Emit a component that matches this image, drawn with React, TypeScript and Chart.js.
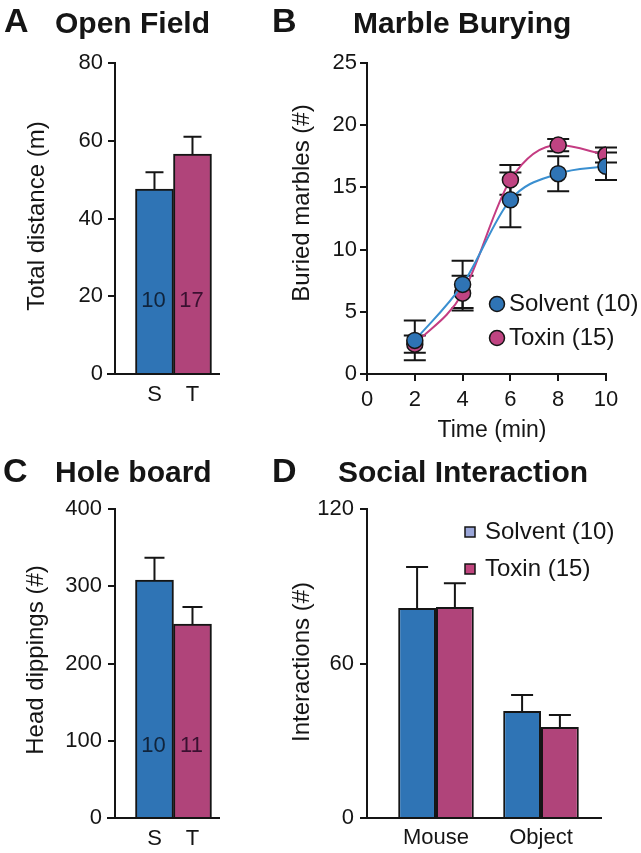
import React, { useEffect, useRef } from 'react';
import { Chart, registerables } from 'chart.js';

Chart.register(...registerables);

const FONT = '"Liberation Sans", Arial, Helvetica, sans-serif';
const INK = '#151515';
const BLUE = '#2f74b5';
const MAGENTA = '#b0447a';
const BLUE_LINE = '#3a8fd0';
const MAGENTA_LINE = '#c43c82';
const SOLVENT_KEY = '#9aa6d8';

// Panel A – Open Field
const openFieldGroups = ['S', 'T'];
const openFieldMeans = [47.6, 56.6];
const openFieldSem = [4.3, 4.4];
const openFieldN = ['10', '17'];

// Panel B – Marble Burying
const marbleTimes = [2, 4, 6, 8, 10];
const marbleSolvent = [2.7, 7.2, 14.0, 16.1, 16.7];
const marbleSolventSem = [1.6, 1.9, 2.2, 1.4, 1.1];
const marbleToxin = [2.4, 6.5, 15.6, 18.4, 17.6];
const marbleToxinSem = [0.7, 1.4, 1.2, 0.5, 0.6];
const seriesLabels = ['Solvent (10)', 'Toxin (15)'];

// Panel C – Hole board
const holeGroups = ['S', 'T'];
const holeMeans = [308, 251];
const holeSem = [29, 22];
const holeN = ['10', '11'];

// Panel D – Social Interaction
const socialCategories = ['Mouse', 'Object'];
const socialSolvent = [81.6, 41.6];
const socialSolventSem = [15.9, 6.2];
const socialToxin = [81.9, 35.3];
const socialToxinSem = [9.3, 4.7];

const f = (size: number, bold = false) => `${bold ? 'bold ' : ''}${size}px ${FONT}`;

type TextItem = { text: string; x: number; y: number; size: number; bold?: boolean; rotate?: boolean; align?: CanvasTextAlign; baseline?: CanvasTextBaseline };

const textPlugin = (items: TextItem[]) => ({
  id: 'texts',
  afterDraw(chart: any) {
    const ctx = chart.ctx;
    items.forEach((it) => {
      ctx.save();
      ctx.fillStyle = INK;
      ctx.font = f(it.size, it.bold);
      ctx.textAlign = it.align || 'left';
      ctx.textBaseline = it.baseline || 'alphabetic';
      ctx.translate(it.x, it.y);
      if (it.rotate) ctx.rotate(-Math.PI / 2);
      ctx.fillText(it.text, 0, 0);
      ctx.restore();
    });
  },
});

const baselinePlugin = (ext: number) => ({
  id: 'baseline',
  afterDraw(chart: any) {
    const { ctx, chartArea } = chart;
    const y0 = chart.scales.y.getPixelForValue(0);
    ctx.save();
    ctx.strokeStyle = INK;
    ctx.lineWidth = 2;
    ctx.beginPath();
    ctx.moveTo(chartArea.left - ext, y0);
    ctx.lineTo(chartArea.right, y0);
    ctx.stroke();
    ctx.restore();
  },
});

const barErrorPlugin = (sems: number[][], capHalf: number) => ({
  id: 'barErr',
  afterDatasetsDraw(chart: any) {
    const ctx = chart.ctx;
    const ys = chart.scales.y;
    chart.data.datasets.forEach((ds: any, di: number) => {
      const meta = chart.getDatasetMeta(di);
      meta.data.forEach((bar: any, j: number) => {
        const v = ds.data[j].y;
        const top = ys.getPixelForValue(v + sems[di][j]);
        ctx.save();
        ctx.strokeStyle = INK;
        ctx.lineWidth = 2;
        ctx.beginPath();
        ctx.moveTo(bar.x, bar.y);
        ctx.lineTo(bar.x, top);
        ctx.moveTo(bar.x - capHalf, top);
        ctx.lineTo(bar.x + capHalf, top);
        ctx.stroke();
        ctx.restore();
      });
    });
  },
});

const barCountPlugin = (labels: string[], atValue: number, colors: string[]) => ({
  id: 'counts',
  afterDatasetsDraw(chart: any) {
    const ctx = chart.ctx;
    const y = chart.scales.y.getPixelForValue(atValue) + 5;
    chart.getDatasetMeta(0).data.forEach((bar: any, j: number) => {
      ctx.save();
      ctx.fillStyle = colors[j];
      ctx.font = f(22);
      ctx.textAlign = 'center';
      ctx.textBaseline = 'middle';
      ctx.fillText(labels[j], bar.x - 1, y);
      ctx.restore();
    });
  },
});

const lineErrorPlugin = (sems: number[][], capHalf: number) => ({
  id: 'lineErr',
  beforeDatasetsDraw(chart: any) {
    const ctx = chart.ctx;
    const ys = chart.scales.y;
    chart.data.datasets.forEach((ds: any, di: number) => {
      const meta = chart.getDatasetMeta(di);
      meta.data.forEach((pt: any, j: number) => {
        const v = ds.data[j].y;
        const hi = ys.getPixelForValue(v + sems[di][j]);
        const lo = ys.getPixelForValue(v - sems[di][j]);
        ctx.save();
        ctx.strokeStyle = INK;
        ctx.lineWidth = 2;
        ctx.beginPath();
        ctx.moveTo(pt.x, hi);
        ctx.lineTo(pt.x, lo);
        ctx.moveTo(pt.x - capHalf, hi);
        ctx.lineTo(pt.x + capHalf, hi);
        ctx.moveTo(pt.x - capHalf, lo);
        ctx.lineTo(pt.x + capHalf, lo);
        ctx.stroke();
        ctx.restore();
      });
    });
  },
});

const legendPlugin = (x: number, ys: number[], shape: 'circle' | 'square', fills: string[]) => ({
  id: 'legendCustom',
  afterDraw(chart: any) {
    const ctx = chart.ctx;
    chart.data.datasets.forEach((ds: any, i: number) => {
      ctx.save();
      ctx.fillStyle = fills[i];
      ctx.strokeStyle = INK;
      ctx.lineWidth = 1.5;
      ctx.beginPath();
      if (shape === 'circle') {
        ctx.arc(x, ys[i], 7.5, 0, Math.PI * 2);
        ctx.fill();
        ctx.stroke();
      } else {
        ctx.rect(x - 5, ys[i] - 5, 10, 10);
        ctx.fill();
        ctx.stroke();
      }
      ctx.fillStyle = INK;
      ctx.font = f(24);
      ctx.textAlign = 'left';
      ctx.textBaseline = 'middle';
      ctx.fillText(ds.label, x + (shape === 'circle' ? 12 : 15), ys[i]);
      ctx.restore();
    });
  },
});

const yAxis = (max: number, step: number, width: number, pad: number) => ({
  min: 0,
  max,
  ticks: { stepSize: step, font: { family: FONT, size: 22 }, color: INK, padding: pad },
  grid: { drawOnChartArea: false, drawTicks: true, tickLength: 7, color: INK, lineWidth: 2 },
  border: { display: true, color: INK, width: 2 },
  afterFit: (s: any) => { s.width = width; },
});

const catXAxis = (labels: string[], min: number, max: number, height: number, pad: number) => ({
  type: 'linear' as const,
  min,
  max,
  offset: false,
  afterBuildTicks: (s: any) => { s.ticks = labels.map((_, i) => ({ value: i + 1 })); },
  ticks: {
    callback: (v: any) => labels[Math.round(v) - 1] ?? '',
    font: { family: FONT, size: 22 },
    color: INK,
    padding: pad,
    maxRotation: 0,
    autoSkip: false,
  },
  grid: { display: false, drawTicks: false, offset: false },
  border: { display: false },
  afterFit: (s: any) => { s.height = height; },
});

const common = { responsive: false, animation: false as const, devicePixelRatio: 1 };
const noPlugins = { legend: { display: false }, tooltip: { enabled: false } };

export default function App() {
  const aRef = useRef<HTMLCanvasElement>(null);
  const bRef = useRef<HTMLCanvasElement>(null);
  const cRef = useRef<HTMLCanvasElement>(null);
  const dRef = useRef<HTMLCanvasElement>(null);

  useEffect(() => {
    const charts: Chart[] = [];

    charts.push(new Chart(aRef.current!, {
      type: 'bar',
      data: {
        datasets: [{
          data: openFieldMeans.map((v, i) => ({ x: i + 1, y: v })),
          backgroundColor: [BLUE, MAGENTA],
          borderColor: INK,
          borderWidth: 2,
          barPercentage: 1,
          categoryPercentage: 1,
        }],
      },
      options: {
        ...common,
        layout: { padding: { left: 0, right: 10, top: 63, bottom: 0 } },
        plugins: noPlugins,
        scales: {
          x: catXAxis(openFieldGroups, -0.039, 2.724, 76, 8),
          y: yAxis(80, 20, 115, 5),
        },
      } as any,
      plugins: [
        baselinePlugin(8),
        barErrorPlugin([openFieldSem], 9),
        barCountPlugin(openFieldN, 20, ['#10243c', '#3a1030']),
        textPlugin([
          { text: 'A', x: 4, y: 32, size: 34, bold: true },
          { text: 'Open Field', x: 55, y: 33, size: 30, bold: true },
          { text: 'Total distance (m)', x: 37, y: 216, size: 24, rotate: true, align: 'center', baseline: 'middle' },
        ]),
      ],
    }));

    charts.push(new Chart(bRef.current!, {
      type: 'line',
      data: {
        datasets: [
          {
            label: seriesLabels[0],
            data: marbleTimes.map((t, i) => ({ x: t, y: marbleSolvent[i] })),
            borderColor: BLUE_LINE,
            backgroundColor: BLUE,
            pointBackgroundColor: BLUE,
            pointBorderColor: INK,
            pointBorderWidth: 1.5,
            pointRadius: 8,
            borderWidth: 2,
            cubicInterpolationMode: 'monotone',
          },
          {
            label: seriesLabels[1],
            data: marbleTimes.map((t, i) => ({ x: t, y: marbleToxin[i] })),
            borderColor: MAGENTA_LINE,
            backgroundColor: MAGENTA,
            pointBackgroundColor: '#c04482',
            pointBorderColor: INK,
            pointBorderWidth: 1.5,
            pointRadius: 8,
            borderWidth: 2,
            cubicInterpolationMode: 'monotone',
          },
        ],
      },
      options: {
        ...common,
        layout: { padding: { left: 0, right: 35, top: 63, bottom: 0 } },
        plugins: noPlugins,
        scales: {
          x: {
            type: 'linear',
            min: 0,
            max: 10,
            ticks: { stepSize: 2, font: { family: FONT, size: 22 }, color: INK, padding: 6, maxRotation: 0 },
            grid: { drawOnChartArea: false, drawTicks: true, tickLength: 7, color: INK, lineWidth: 2 },
            border: { display: true, color: INK, width: 2 },
            afterFit: (s: any) => { s.height = 76; },
          },
          y: yAxis(25, 5, 137, 3),
        },
      } as any,
      plugins: [
        lineErrorPlugin([marbleSolventSem, marbleToxinSem], 11),
        legendPlugin(267, [304, 338], 'circle', [BLUE, '#c04482']),
        textPlugin([
          { text: 'B', x: 42, y: 32, size: 34, bold: true },
          { text: 'Marble Burying', x: 123, y: 33, size: 30, bold: true },
          { text: 'Buried marbles (#)', x: 72, y: 203, size: 24, rotate: true, align: 'center', baseline: 'middle' },
          { text: 'Time (min)', x: 262, y: 431, size: 23, align: 'center', baseline: 'middle' },
        ]),
      ],
    }));

    charts.push(new Chart(cRef.current!, {
      type: 'bar',
      data: {
        datasets: [{
          data: holeMeans.map((v, i) => ({ x: i + 1, y: v })),
          backgroundColor: [BLUE, MAGENTA],
          borderColor: INK,
          borderWidth: 2,
          barPercentage: 1,
          categoryPercentage: 1,
        }],
      },
      options: {
        ...common,
        layout: { padding: { left: 0, right: 10, top: 59, bottom: 0 } },
        plugins: noPlugins,
        scales: {
          x: catXAxis(holeGroups, -0.039, 2.724, 35, 8),
          y: yAxis(400, 100, 115, 6),
        },
      } as any,
      plugins: [
        baselinePlugin(8),
        barErrorPlugin([holeSem], 10),
        barCountPlugin(holeN, 100, ['#10243c', '#3a1030']),
        textPlugin([
          { text: 'C', x: 3, y: 32, size: 34, bold: true },
          { text: 'Hole board', x: 55, y: 32, size: 30, bold: true },
          { text: 'Head dippings (#)', x: 36, y: 210, size: 24, rotate: true, align: 'center', baseline: 'middle' },
        ]),
      ],
    }));

    charts.push(new Chart(dRef.current!, {
      type: 'bar',
      data: {
        datasets: [
          {
            label: seriesLabels[0],
            data: socialSolvent.map((v, i) => ({ x: i + 1, y: v })),
            backgroundColor: BLUE,
            borderColor: INK,
            borderWidth: 2,
            barPercentage: 1,
            categoryPercentage: 0.72,
          },
          {
            label: seriesLabels[1],
            data: socialToxin.map((v, i) => ({ x: i + 1, y: v })),
            backgroundColor: MAGENTA,
            borderColor: INK,
            borderWidth: 2,
            barPercentage: 1,
            categoryPercentage: 0.72,
          },
        ],
      },
      options: {
        ...common,
        layout: { padding: { left: 0, right: 39, top: 59, bottom: 0 } },
        plugins: noPlugins,
        scales: {
          x: catXAxis(socialCategories, 0.343, 2.581, 35, 7),
          y: yAxis(120, 60, 137, 6),
        },
      } as any,
      plugins: [
        baselinePlugin(5),
        barErrorPlugin([socialSolventSem, socialToxinSem], 11),
        legendPlugin(240, [82, 119], 'square', [SOLVENT_KEY, '#c0457e']),
        textPlugin([
          { text: 'D', x: 42, y: 32, size: 34, bold: true },
          { text: 'Social Interaction', x: 108, y: 32, size: 30, bold: true },
          { text: 'Interactions (#)', x: 72, y: 212, size: 24, rotate: true, align: 'center', baseline: 'middle' },
        ]),
      ],
    }));

    return () => charts.forEach((c) => c.destroy());
  }, []);

  const box = (left: number, top: number): React.CSSProperties => ({ position: 'absolute', left, top });

  return (
    <div style={{ position: 'absolute', left: 0, top: 0, width: 641, height: 853, background: '#fff', overflow: 'hidden' }}>
      <div style={box(0, 0)}><canvas ref={aRef} width={230} height={450} style={{ display: 'block', width: 230, height: 450 }} /></div>
      <div style={box(230, 0)}><canvas ref={bRef} width={411} height={450} style={{ display: 'block', width: 411, height: 450 }} /></div>
      <div style={box(0, 450)}><canvas ref={cRef} width={230} height={403} style={{ display: 'block', width: 230, height: 403 }} /></div>
      <div style={box(230, 450)}><canvas ref={dRef} width={411} height={403} style={{ display: 'block', width: 411, height: 403 }} /></div>
    </div>
  );
}
